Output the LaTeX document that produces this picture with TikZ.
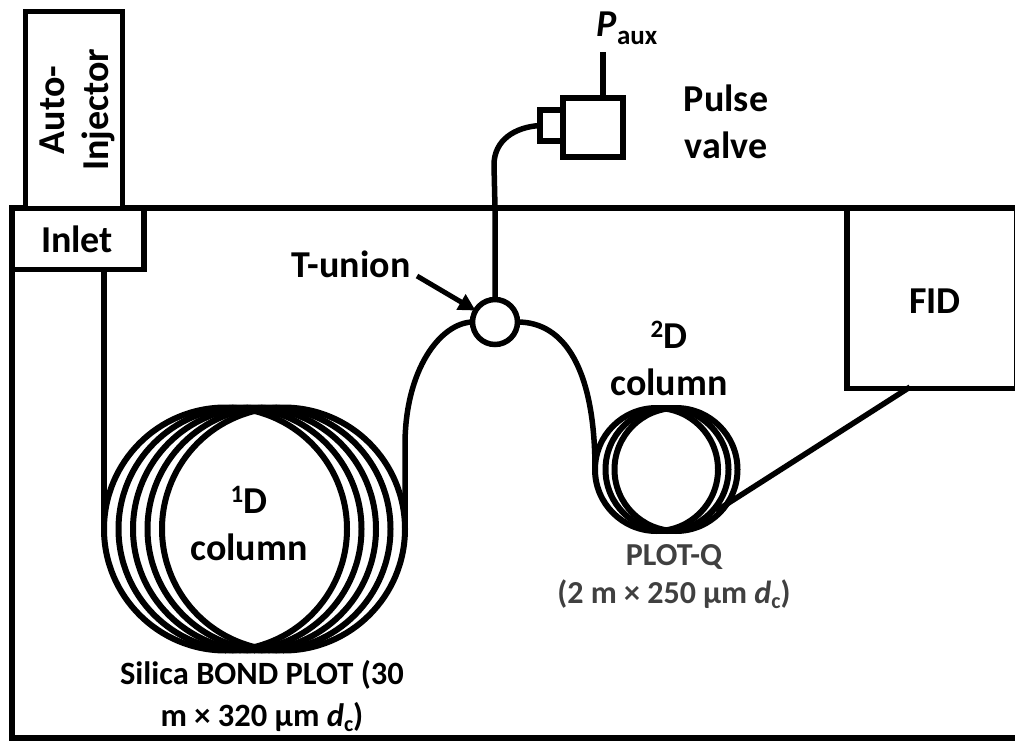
\documentclass[tikz,border=0pt]{standalone}
\usepackage{fontspec}
\setmainfont{Carlito}
\usetikzlibrary{arrows.meta}
\definecolor{labelgray}{HTML}{404040}
\tikzset{
    tube/.style={line width=5.5pt},
    coil/.style={line width=6pt},
    box/.style={draw, line width=5.5pt, inner sep=0, outer sep=0, fill=white},
    lab/.style={font=\fontsize{38}{47}\selectfont\bfseries, align=center, inner sep=0},
    note/.style={font=\fontsize{32.5}{42}\selectfont\bfseries, align=center, inner sep=0}
}
\begin{document}
\begin{tikzpicture}[x=1pt, y=-1pt]
    \useasboundingbox (0,0) rectangle (1015,741);

    % ---------- coil sizes ----------
    \def\myRa{121.5}   % first column
    \def\myRb{61.5}    % second column

    % ---------- oven ----------
    \draw[tube] (1015,208) -- (12,208) -- (12,738) -- (1015,738);

    % ---------- boxes ----------
    \node[box, minimum width=97, minimum height=197] (injector) at (74,110) {};
    \node[box, minimum width=132, minimum height=61] (inlet) at (78,239) {};
    \node[box, minimum width=170, minimum height=180] (fid) at (932,298.5) {};
    \node[box, minimum width=60, minimum height=59] (valve) at (593,127.5) {};
    \node[box, minimum width=23, minimum height=31] (nozzle) at (551.5,125.5) {};
    \node[draw, line width=5.5pt, circle, inner sep=0, outer sep=0, minimum size=45, fill=white] (tunion) at (495,322) {};

    % ---------- first column ----------
    \foreach \cx in {225.5,240,254.5,269,283.5}
        \draw[coil] (\cx,529) circle[radius=\myRa];
    \coordinate (coilAin) at (104,529);
    \coordinate (coilAout) at (405,529);
    \draw[tube] (inlet.south -| coilAin) -- (coilAin);
    \draw[tube] (coilAout) -- (405,445) .. controls (405,370) and (440,323) .. (tunion.west);

    % ---------- second column ----------
    \foreach \cx in {656.5,667,676}
        \draw[coil] (\cx,469.5) circle[radius=\myRb];
    \coordinate (coilBin) at (595,469.5);
    \coordinate (coilBout) at (716,511);
    \coordinate (fidin) at (910,387);
    \draw[tube] (tunion.east) .. controls (565,322) and (595,370) .. (coilBin);
    \draw[tube] (coilBout) -- (fidin);

    % ---------- pulse valve line ----------
    \coordinate (pauxend) at (603,52);
    \draw[tube] (valve.north -| pauxend) -- (pauxend);
    \draw[tube] (tunion.north) -- (495,208) -- (494,165) .. controls (494,140) and (515,127) .. (nozzle.west);

    % ---------- labels ----------
    \node[lab, rotate=90] (autolab) at (52,110) {Auto-};
    \node[lab, rotate=90] (injlab) at (98,110) {Injector};
    \node[lab] (inletlab) at (77,239) {Inlet};
    \node[lab] (pauxlab) at (627,28) {\textit{P}\raisebox{-8pt}{\fontsize{27}{27}\selectfont aux}};
    \node[lab] (pulselab) at (726,122) {Pulse\\valve};
    \node[lab] (tlab) at (351,264) {T-union};
    \node[lab] (fidlab) at (935,301) {FID};
    \node[lab] (onelab) at (249,524) {\raisebox{11pt}{\fontsize{25}{25}\selectfont 1}D\\column};
    \node[lab] (twolab) at (669,358) {\raisebox{11pt}{\fontsize{25}{25}\selectfont 2}D\\column};
    \node[note, text=labelgray, font=\fontsize{32}{38}\selectfont\bfseries] (plotq) at (674,577) {PLOT-Q\\(2 m × 250 µm \textit{d}\raisebox{-5pt}{\fontsize{22}{22}\selectfont c})};
    \node[note] (silica) at (262,696) {Silica BOND PLOT (30\\m × 320 µm \textit{d}\raisebox{-5pt}{\fontsize{22}{22}\selectfont c})};

    \coordinate (tstart) at (417,276);
    \draw[line width=5pt, -{Stealth[length=17pt,width=17pt,inset=0pt]}] (tstart) -- (tunion);
\end{tikzpicture}
\end{document}
